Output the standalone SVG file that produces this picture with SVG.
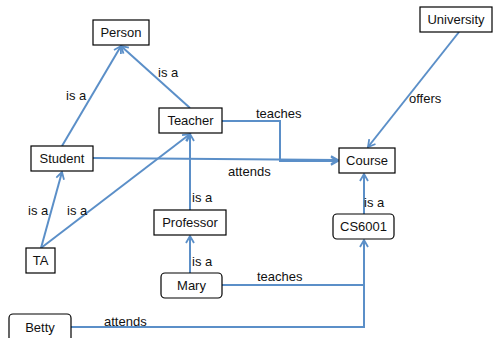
<svg xmlns="http://www.w3.org/2000/svg" width="493" height="338" viewBox="0 0 493 338">
<style>
.box{fill:#fff;stroke:#000;stroke-width:1.2}
.t{font-family:"Liberation Sans",Arial,sans-serif;font-size:13px;fill:#111}
.c{text-anchor:middle}
.ln{fill:none;stroke:#5b8fc8;stroke-width:2}
</style>
<defs>
<marker id="ah" markerWidth="10" markerHeight="10" refX="8" refY="5" orient="auto" markerUnits="userSpaceOnUse">
<path d="M1,1 L8,5 L1,9" fill="none" stroke="#5b8fc8" stroke-width="1.8"/>
</marker>
</defs>
<rect width="493" height="338" fill="#fff"/>
<g id="connectors">
<line class="ln" x1="62" y1="146" x2="121" y2="46" marker-end="url(#ah)"/>
<line class="ln" x1="190" y1="108" x2="121" y2="46" marker-end="url(#ah)"/>
<polyline class="ln" points="222,121 280,121 280,161 338,161" marker-end="url(#ah)"/>
<line class="ln" x1="93" y1="158" x2="338" y2="160" marker-end="url(#ah)"/>
<line class="ln" x1="459" y1="32" x2="368" y2="147" marker-end="url(#ah)"/>
<line class="ln" x1="364" y1="214" x2="364" y2="174" marker-end="url(#ah)"/>
<polyline class="ln" points="222,285 364,285 364,240" marker-end="url(#ah)"/>
<polyline class="ln" points="71,327 364,327 364,285"/>
<line class="ln" x1="190" y1="273" x2="190" y2="236" marker-end="url(#ah)"/>
<line class="ln" x1="190" y1="210" x2="190" y2="134" marker-end="url(#ah)"/>
<line class="ln" x1="41" y1="248" x2="62" y2="172" marker-end="url(#ah)"/>
<line class="ln" x1="41" y1="248" x2="190" y2="134" marker-end="url(#ah)"/>
<text class="t" x="66" y="100">is a</text>
<text class="t" x="158" y="77">is a</text>
<text class="t" x="256" y="118">teaches</text>
<text class="t" x="228" y="176">attends</text>
<text class="t" x="409" y="103">offers</text>
<text class="t" x="364" y="207">is a</text>
<text class="t" x="257" y="281">teaches</text>
<text class="t" x="104" y="326">attends</text>
<text class="t" x="192" y="202">is a</text>
<text class="t" x="192" y="266">is a</text>
<text class="t" x="28" y="215">is a</text>
<text class="t" x="67" y="215">is a</text>
</g>
<g id="person"><rect class="box" x="93" y="20" width="56" height="25"/><text class="t c" x="121" y="37">Person</text></g>
<g id="teacher"><rect class="box" x="159" y="108" width="63" height="25"/><text class="t c" x="190.5" y="125">Teacher</text></g>
<g id="student"><rect class="box" x="31" y="146" width="62" height="25"/><text class="t c" x="62" y="163">Student</text></g>
<g id="university"><rect class="box" x="420" y="7" width="72" height="25"/><text class="t c" x="456" y="24">University</text></g>
<g id="course"><rect class="box" x="339" y="148" width="56" height="25"/><text class="t c" x="367" y="165">Course</text></g>
<g id="cs6001"><rect class="box" x="333" y="214" width="61" height="25" rx="4"/><text class="t c" x="363.5" y="231">CS6001</text></g>
<g id="professor"><rect class="box" x="154" y="210" width="72" height="25"/><text class="t c" x="190" y="227">Professor</text></g>
<g id="ta"><rect class="box" x="26" y="248" width="29" height="25"/><text class="t c" x="40.5" y="265">TA</text></g>
<g id="mary"><rect class="box" x="161" y="273" width="61" height="25" rx="4"/><text class="t c" x="191.5" y="290">Mary</text></g>
<g id="betty"><rect class="box" x="9" y="314" width="62" height="32" rx="4"/><text class="t c" x="40" y="332">Betty</text></g>
</svg>
